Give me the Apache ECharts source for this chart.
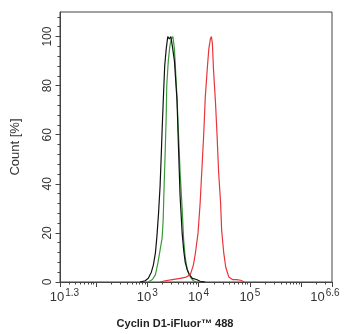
<!DOCTYPE html>
<html>
<head>
<meta charset="utf-8">
<script src="https://cdn.jsdelivr.net/npm/echarts@6/dist/echarts.min.js"></script>
<style>html,body{margin:0;padding:0;background:#fff}#c{width:347px;height:334px}</style>
</head>
<body>
<div id="c"></div>
<script>
// x values are log10(fluorescence intensity); y values are Count [%]
const blackX = [2.86,2.96,3.02,3.08,3.12,3.16,3.19,3.22,3.25,3.27,3.29,3.32,3.34,3.37,3.40,3.43,3.46,3.49,3.53,3.58,3.61,3.64,3.68,3.71,3.74,3.78,3.82,3.88,3.96,4.03,4.13];
const blackY = [0,0.5,1.5,4,7,12,19,28,39,50,62,78,88,95,100,99,100,96,90,74,54,35,20,13,8,5,3,1.5,1,0.3,0];
const greenX = [3.02,3.10,3.16,3.21,3.25,3.29,3.31,3.33,3.35,3.37,3.38,3.41,3.44,3.47,3.50,3.53,3.55,3.58,3.61,3.64,3.68,3.71,3.74,3.78,3.84,3.90,3.96];
const greenY = [0,1,3,8,13,18,25,40,53,68,80,90,96,99,100,95,87,75,60,45,30,17,10,5,2,0.5,0];
const redX = [3.25,3.35,3.49,3.64,3.76,3.84,3.90,3.94,3.99,4.03,4.10,4.13,4.17,4.20,4.23,4.25,4.27,4.29,4.33,4.36,4.39,4.43,4.45,4.49,4.53,4.59,4.66,4.74,4.82,4.89];
const redY = [0,0.5,1,1.5,2,3,7,12,20,32,60,75,87,95,99,100,97,87,73,60,45,32,21,12,6,2,1,1,0.7,0];
const xLabelExps = [1.3, 3, 4, 5, 6.6];
const xMajorTicks = [1.3, 2, 3, 4, 5, 6, 6.6];
const yTicks = [0, 20, 40, 60, 80, 100];
const xTitle = 'Cyclin D1-iFluor™ 488';
const yTitle = 'Count [%]';

const XMIN = 1.3, XMAX = 6.6;
const minorTicks = [];
for (let n = 1; n <= 6; n++) {
  for (let k = 2; k <= 9; k++) {
    const v = n + Math.log10(k);
    if (v > XMIN && v < XMAX) minorTicks.push(v);
  }
}
const pairs = (xs, ys) => xs.map((x, i) => [x, ys[i]]);
const axisColor = '#444';
const chart = echarts.init(document.getElementById('c'), null, {renderer: 'canvas'});
const font = 'Liberation Sans, Arial, sans-serif';
const tc = '#333';
chart.setOption({
  animation: false,
  grid: {left: 60, top: 12, right: 15, bottom: 52, show: true, borderColor: axisColor, borderWidth: 1, containLabel: false, outerBoundsMode: 'none'},
  xAxis: [{
    type: 'value', min: XMIN, max: XMAX, position: 'bottom',
    name: xTitle, nameLocation: 'middle', nameGap: 36,
    nameTextStyle: {fontFamily: font, fontSize: 11, fontWeight: 'bold', color: '#222', padding: [0, 42, 0, 0]},
    axisLine: {show: true, onZero: false, lineStyle: {color: axisColor, width: 1}},
    axisTick: {show: true, length: 5, inside: false, customValues: xMajorTicks, lineStyle: {color: axisColor}},
    axisLabel: {
      show: true, margin: 6, customValues: xLabelExps, color: tc, fontFamily: font,
      formatter: function (v) {
        const e = String(Math.round(v * 10) / 10);
        if (Math.abs(v - XMIN) < 1e-6) return '{bl|10}{s|' + e + '}';
        if (Math.abs(v - XMAX) < 1e-6) return '{b|10}{sr|' + e + '}';
        return '{b|10}{s|' + e + '}';
      },
      rich: {
        b: {fontSize: 13, lineHeight: 16, fontFamily: font, color: tc, verticalAlign: 'bottom'},
        bl: {fontSize: 13, lineHeight: 16, fontFamily: font, color: tc, verticalAlign: 'bottom', padding: [0, 0, 0, 9]},
        s: {fontSize: 10, lineHeight: 11, fontFamily: font, color: tc, verticalAlign: 'top', padding: [0, 0, 0, 1]},
        sr: {fontSize: 10, lineHeight: 11, fontFamily: font, color: tc, verticalAlign: 'top', padding: [0, 14, 0, 1]}
      }
    },
    splitLine: {show: false}
  }, {
    type: 'value', min: XMIN, max: XMAX, position: 'bottom',
    axisLine: {show: false},
    axisTick: {show: true, length: 2.5, customValues: minorTicks, lineStyle: {color: axisColor}},
    axisLabel: {show: false},
    splitLine: {show: false}
  }],
  yAxis: {
    type: 'value', min: 0, max: 110, interval: 20,
    name: yTitle, nameLocation: 'middle', nameGap: 38, nameRotate: 90,
    nameTextStyle: {fontFamily: font, fontSize: 13, color: tc},
    axisLine: {show: true, lineStyle: {color: axisColor}},
    axisTick: {show: true, length: 4.5, customValues: yTicks, lineStyle: {color: axisColor}},
    minorTick: {show: true, splitNumber: 5, length: 2.5, lineStyle: {color: axisColor}},
    axisLabel: {rotate: 90, margin: 6, customValues: yTicks, fontSize: 12, fontFamily: font, color: tc},
    splitLine: {show: false}, minorSplitLine: {show: false}
  },
  series: [
    {type: 'line', name: 'green', data: pairs(greenX, greenY), showSymbol: false, lineStyle: {color: '#3a9a3a', width: 1.2}, itemStyle: {color: '#3a9a3a'}},
    {type: 'line', name: 'black', data: pairs(blackX, blackY), showSymbol: false, lineStyle: {color: '#111', width: 1.2}, itemStyle: {color: '#111'}},
    {type: 'line', name: 'red', data: pairs(redX, redY), showSymbol: false, lineStyle: {color: '#e8343a', width: 1.2}, itemStyle: {color: '#e8343a'}}
  ]
});
</script>
</body>
</html>
